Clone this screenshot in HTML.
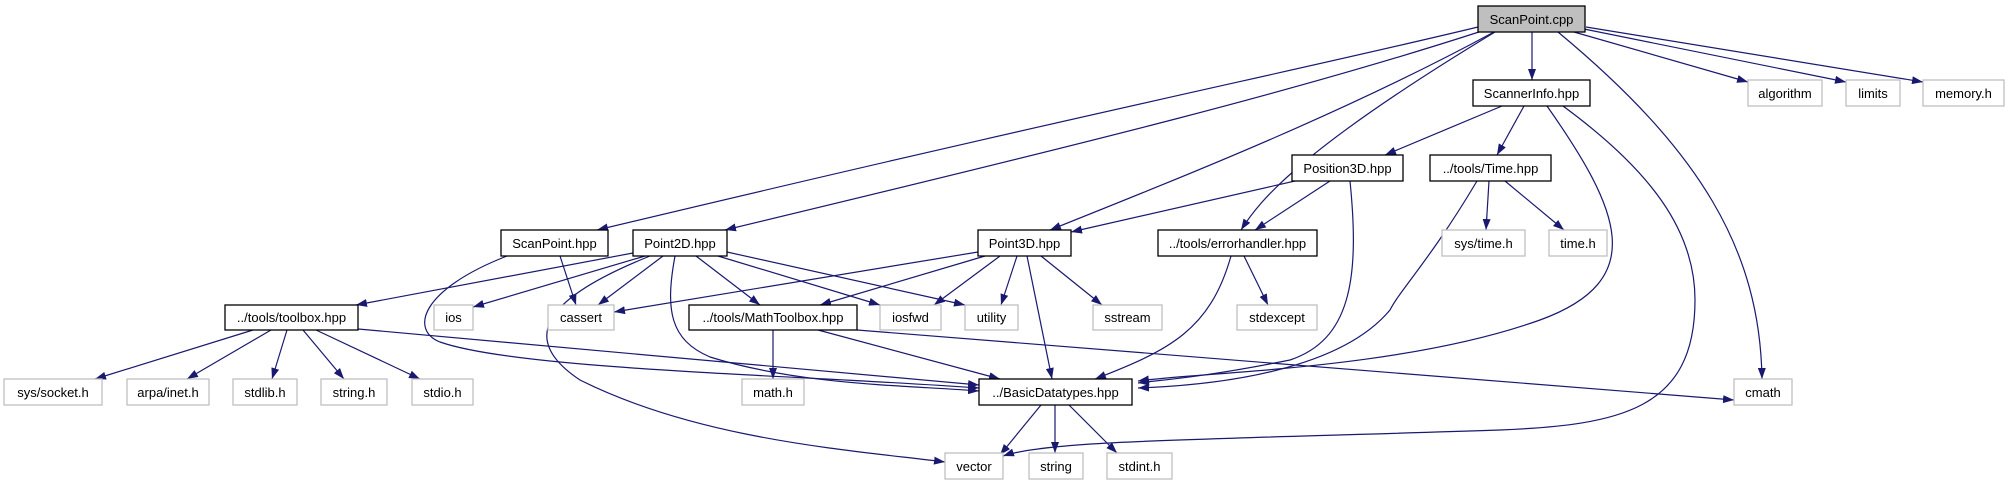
<!DOCTYPE html>
<html><head><meta charset="utf-8"><style>
html,body{margin:0;padding:0;background:#fff;}
svg{display:block;}
text{font-family:"Liberation Sans",sans-serif;font-size:13px;fill:#000;}
.n{fill:#fff;stroke:#000;stroke-width:1.3;}
.g{fill:#fff;stroke:#bfbfbf;stroke-width:1.3;}
.e{fill:none;stroke:#191970;stroke-width:1.2;}
</style></head><body>
<svg width="2009" height="485" viewBox="0 0 2009 485" xmlns="http://www.w3.org/2000/svg">
<defs><marker id="a" markerUnits="userSpaceOnUse" markerWidth="11" markerHeight="8" refX="11" refY="4" orient="auto"><path d="M0,0 L11,4 L0,8 z" fill="#191970"/></marker></defs>
<g class="e" marker-end="url(#a)">
<path d="M1478,27 C1300,70 1100,110 597,230"/>
<path d="M1482,31 C1300,90 1100,140 725,230"/>
<path d="M1494,32 C1350,110 1200,170 1050,230"/>
<path d="M1495,32 C1300,150 1260,200 1241,230"/>
<path d="M1532,32 L1532,80"/>
<path d="M1558,32 C1700,150 1760,250 1762,379"/>
<path d="M1574,32 L1748,82"/>
<path d="M1584,29 L1846,82"/>
<path d="M1586,27 L1923,82"/>
<path d="M1502,106 L1385,155"/>
<path d="M1524,106 L1497,155"/>
<path d="M1547,106 C1620,210 1650,280 1540,320 C1400,370 1200,372 1138,381"/>
<path d="M1563,106 C1650,170 1695,230 1695,300 C1695,410 1620,425 1500,430 C1200,440 1050,440 1003,456"/>
<path d="M1295,181 L1071,232"/>
<path d="M1330,181 L1255,230"/>
<path d="M1350,181 C1360,280 1350,340 1290,360 C1200,378 1160,380 1138,383"/>
<path d="M1489,181 L1486,230"/>
<path d="M1505,181 L1564,230"/>
<path d="M1477,181 C1430,260 1400,290 1390,310 C1340,370 1220,385 1138,388"/>
<path d="M978,252 L614,312"/>
<path d="M985,256 L820,305"/>
<path d="M1000,256 L934,305"/>
<path d="M1017,256 L1001,305"/>
<path d="M1027,256 L1052,379"/>
<path d="M1041,256 L1102,305"/>
<path d="M1244,256 L1268,305"/>
<path d="M1231,256 C1210,330 1170,350 1095,379"/>
<path d="M560,256 L576,305"/>
<path d="M507,256 C420,290 410,330 440,342 C520,370 800,375 979,388"/>
<path d="M633,253 L356,305"/>
<path d="M645,256 L473,307"/>
<path d="M663,256 L598,305"/>
<path d="M696,256 L760,305"/>
<path d="M718,256 L880,305"/>
<path d="M727,252 L965,305"/>
<path d="M675,256 C665,310 670,340 710,357 C800,385 900,385 979,391"/>
<path d="M650,256 C540,300 520,340 580,380 C700,440 850,450 945,462"/>
<path d="M253,330 L95,379"/>
<path d="M271,330 L187,379"/>
<path d="M287,330 L272,379"/>
<path d="M303,330 L344,379"/>
<path d="M316,330 L420,379"/>
<path d="M358,329 L979,385"/>
<path d="M773,330 L773,379"/>
<path d="M818,330 L1000,379"/>
<path d="M857,330 L1734,400"/>
<path d="M1041,405 L1000,455"/>
<path d="M1055,405 L1055,453"/>
<path d="M1069,405 L1117,453"/>
</g>
<rect x="1478" y="6" width="107" height="26" fill="#bfbfbf" stroke="#000" stroke-width="1.3"/><text x="1531.5" y="24" text-anchor="middle">ScanPoint.cpp</text>
<rect class="n" x="1473" y="80" width="117" height="26"/><text x="1531.5" y="98" text-anchor="middle">ScannerInfo.hpp</text>
<rect class="g" x="1748" y="80" width="74" height="26"/><text x="1785" y="98" text-anchor="middle">algorithm</text>
<rect class="g" x="1846" y="80" width="54" height="26"/><text x="1873" y="98" text-anchor="middle">limits</text>
<rect class="g" x="1923" y="80" width="81" height="26"/><text x="1963.5" y="98" text-anchor="middle">memory.h</text>
<rect class="n" x="1292" y="155" width="111" height="26"/><text x="1347.5" y="173" text-anchor="middle">Position3D.hpp</text>
<rect class="n" x="1430" y="155" width="121" height="26"/><text x="1490.5" y="173" text-anchor="middle">../tools/Time.hpp</text>
<rect class="n" x="501" y="230" width="107" height="26"/><text x="554.5" y="248" text-anchor="middle">ScanPoint.hpp</text>
<rect class="n" x="633" y="230" width="94" height="26"/><text x="680" y="248" text-anchor="middle">Point2D.hpp</text>
<rect class="n" x="978" y="230" width="93" height="26"/><text x="1024.5" y="248" text-anchor="middle">Point3D.hpp</text>
<rect class="n" x="1158" y="230" width="159" height="26"/><text x="1237.5" y="248" text-anchor="middle">../tools/errorhandler.hpp</text>
<rect class="g" x="1442" y="230" width="83" height="26"/><text x="1483.5" y="248" text-anchor="middle">sys/time.h</text>
<rect class="g" x="1549" y="230" width="58" height="26"/><text x="1578" y="248" text-anchor="middle">time.h</text>
<rect class="n" x="225" y="305" width="133" height="25"/><text x="291.5" y="322" text-anchor="middle">../tools/toolbox.hpp</text>
<rect class="g" x="434" y="305" width="39" height="25"/><text x="453.5" y="322" text-anchor="middle">ios</text>
<rect class="g" x="548" y="305" width="66" height="25"/><text x="581" y="322" text-anchor="middle">cassert</text>
<rect class="n" x="689" y="305" width="168" height="25"/><text x="773" y="322" text-anchor="middle">../tools/MathToolbox.hpp</text>
<rect class="g" x="880" y="305" width="61" height="25"/><text x="910.5" y="322" text-anchor="middle">iosfwd</text>
<rect class="g" x="965" y="305" width="53" height="25"/><text x="991.5" y="322" text-anchor="middle">utility</text>
<rect class="g" x="1093" y="305" width="69" height="25"/><text x="1127.5" y="322" text-anchor="middle">sstream</text>
<rect class="g" x="1237" y="305" width="80" height="25"/><text x="1277" y="322" text-anchor="middle">stdexcept</text>
<rect class="g" x="4" y="379" width="98" height="26"/><text x="53" y="397" text-anchor="middle">sys/socket.h</text>
<rect class="g" x="127" y="379" width="82" height="26"/><text x="168" y="397" text-anchor="middle">arpa/inet.h</text>
<rect class="g" x="233" y="379" width="64" height="26"/><text x="265" y="397" text-anchor="middle">stdlib.h</text>
<rect class="g" x="321" y="379" width="66" height="26"/><text x="354" y="397" text-anchor="middle">string.h</text>
<rect class="g" x="412" y="379" width="61" height="26"/><text x="442.5" y="397" text-anchor="middle">stdio.h</text>
<rect class="g" x="742" y="379" width="62" height="26"/><text x="773" y="397" text-anchor="middle">math.h</text>
<rect class="n" x="979" y="379" width="153" height="26"/><text x="1055.5" y="397" text-anchor="middle">../BasicDatatypes.hpp</text>
<rect class="g" x="1734" y="379" width="58" height="26"/><text x="1763" y="397" text-anchor="middle">cmath</text>
<rect class="g" x="945" y="453" width="58" height="26"/><text x="974" y="471" text-anchor="middle">vector</text>
<rect class="g" x="1029" y="453" width="54" height="26"/><text x="1056" y="471" text-anchor="middle">string</text>
<rect class="g" x="1107" y="453" width="65" height="26"/><text x="1139.5" y="471" text-anchor="middle">stdint.h</text>
</svg>
</body></html>
